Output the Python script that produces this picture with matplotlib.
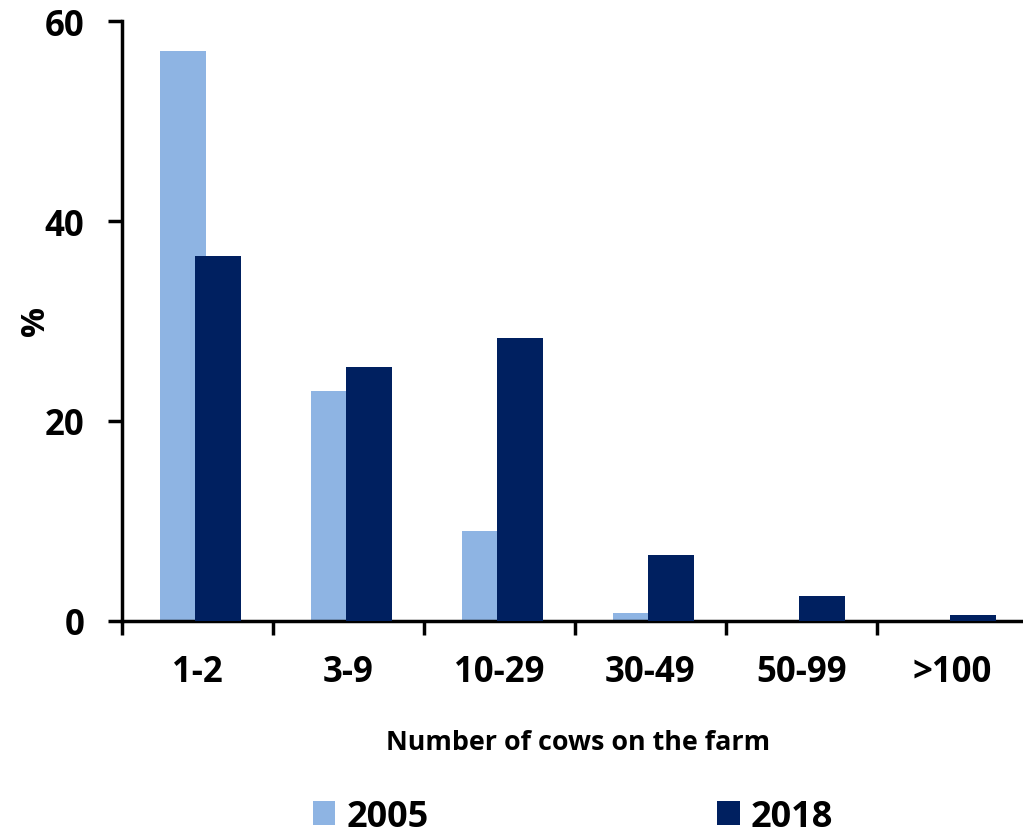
import numpy as np
import matplotlib.pyplot as plt

# Share of farms (%) by herd size
categories = ['1-2', '3-9', '10-29', '30-49', '50-99', '>100']
share_2005 = [57.0, 23.0, 9.0, 0.8, 0.0, 0.0]
share_2018 = [36.5, 25.4, 28.3, 6.6, 2.5, 0.6]

light = '#8EB4E3'
dark = '#002060'
font = 'Open Sans'

fig = plt.figure(figsize=(10.23, 8.37), dpi=100)
ax = fig.add_axes([122 / 1023, 215 / 837, 906 / 1023, 600 / 837])

x = np.arange(len(categories))
w = 0.305
ax.bar(x - 0.093, share_2005, width=w, color=light, label='2005', zorder=2)
ax.bar(x + 0.133, share_2018, width=w, color=dark, label='2018', zorder=3)

ax.set_xlim(-0.5, 5.5)
ax.set_ylim(0, 60)
ax.set_yticks([0, 20, 40, 60])

# category boundaries get the tick marks, labels sit at the centres
ax.set_xticks(x)
ax.set_xticklabels(categories)
ax.set_xticks(np.arange(-0.5, 6.0, 1.0), minor=True)
ax.tick_params(axis='x', which='major', length=0, pad=24, labelsize=25)
ax.tick_params(axis='x', which='minor', length=10, width=2.5, direction='out')
ax.tick_params(axis='y', length=10, width=2.5, pad=17, labelsize=25)
for lbl in ax.get_xticklabels() + ax.get_yticklabels():
    lbl.set_fontweight('bold')
    lbl.set_family(font)

for side in ['top', 'right']:
    ax.spines[side].set_visible(False)
for side in ['left', 'bottom']:
    ax.spines[side].set_linewidth(2.5)

ax.set_ylabel('%', fontsize=24, fontweight='bold', family=font)
ax.yaxis.set_label_coords(-70 / 906, 0.502)
fig.text(578 / 1023, 1 - 743 / 837, 'Number of cows on the farm',
         fontsize=19.4, fontweight='bold', family=font, ha='center', va='center')

fig.legend(loc='center', bbox_to_anchor=(573 / 1023, 1 - 818 / 837), ncol=2,
           frameon=False, prop={'family': font, 'weight': 'bold', 'size': 26},
           handlelength=0.63, handleheight=0.63, handletextpad=0.3,
           columnspacing=8.0)

fig.savefig('out.png', dpi=100)
